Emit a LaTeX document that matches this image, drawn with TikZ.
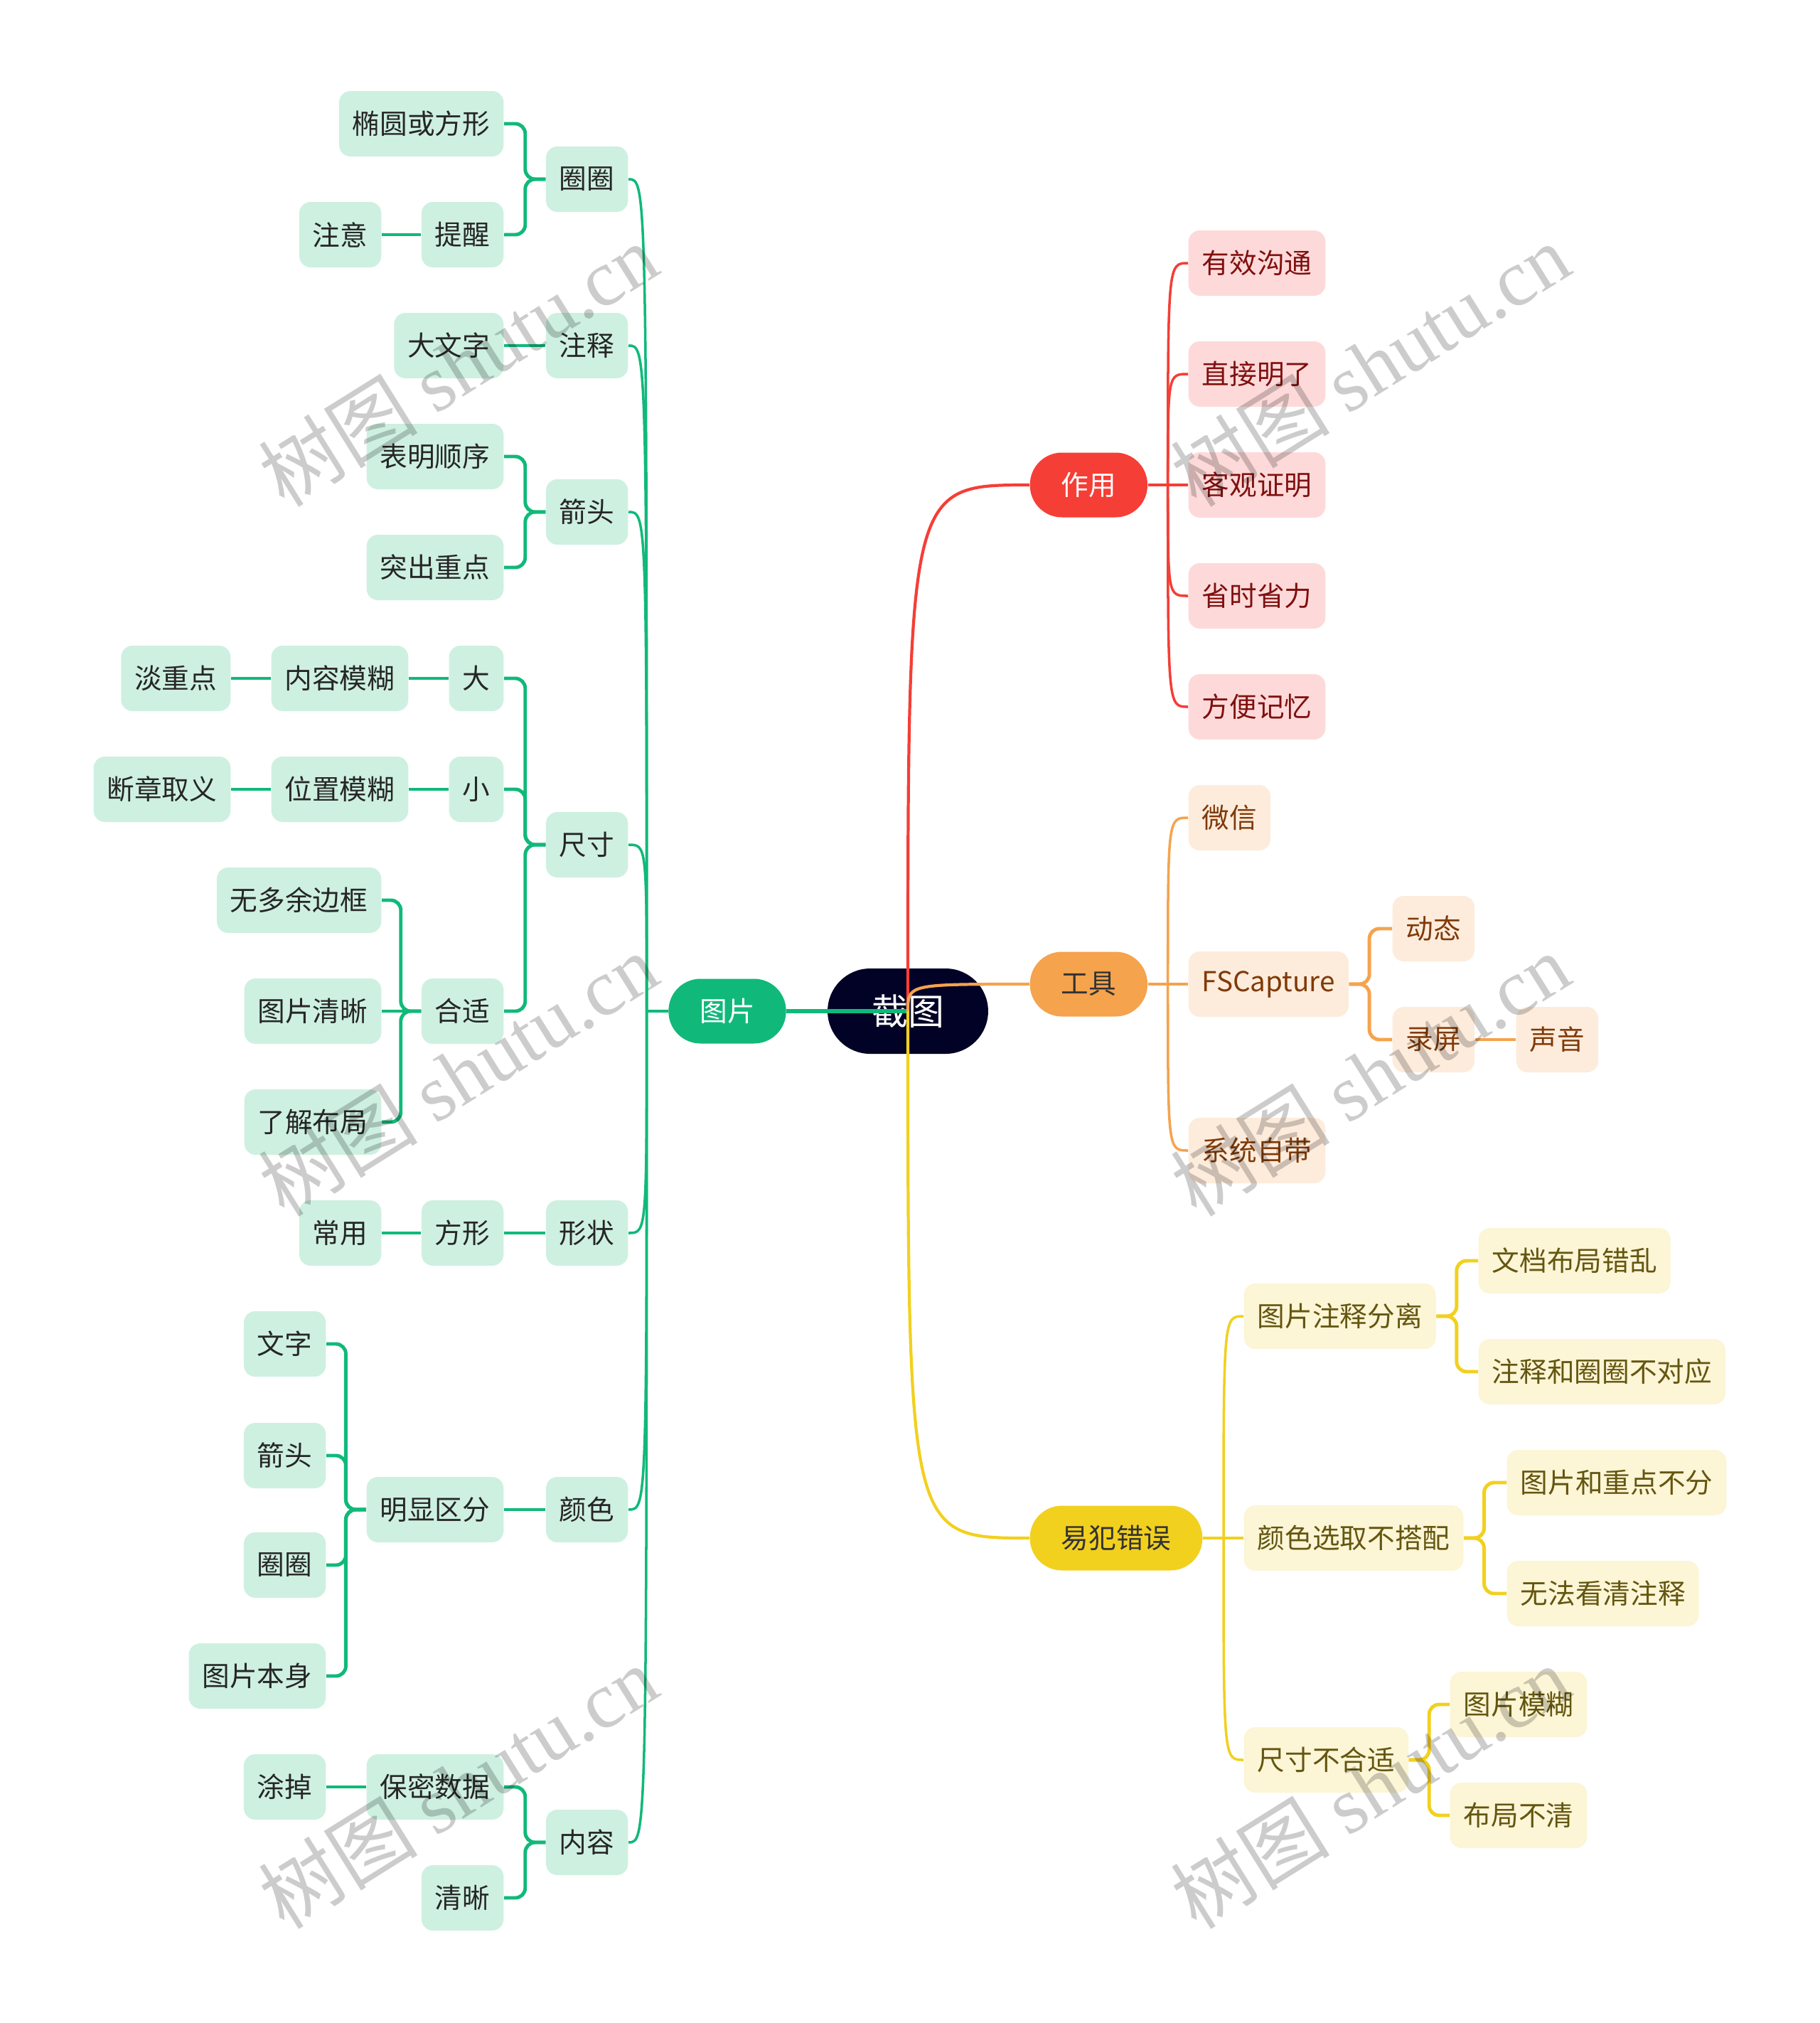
\documentclass[tikz,border=0pt]{standalone}
\usepackage{fontspec}
\setmainfont{Noto Sans CJK SC}
\newfontfamily\wmfont{Liberation Serif}
\definecolor{rootbg}{RGB}{2,2,38}
\definecolor{tpgreen}{RGB}{16,185,122}
\definecolor{tplight}{RGB}{206,240,225}
\definecolor{zyred}{RGB}{245,62,54}
\definecolor{zylight}{RGB}{253,218,217}
\definecolor{zytext}{RGB}{128,16,16}
\definecolor{gjorange}{RGB}{245,163,77}
\definecolor{gjlight}{RGB}{253,236,220}
\definecolor{gjtext}{RGB}{128,58,8}
\definecolor{cwyellow}{RGB}{242,208,30}
\definecolor{cwlight}{RGB}{252,245,214}
\definecolor{cwtext}{RGB}{100,86,16}

\begin{document}
\begin{tikzpicture}[font=\fontsize{11}{13}\selectfont,
  leaf/.style={rounded corners=0.16cm, minimum height=0.92cm, inner xsep=0.19cm, inner ysep=0pt},
  gleaf/.style={leaf, fill=tplight, text=black!85},
  rleaf/.style={leaf, fill=zylight, text=zytext},
  oleaf/.style={leaf, fill=gjlight, text=gjtext},
  yleaf/.style={leaf, fill=cwlight, text=cwtext},
  branch/.style={rounded corners=0.45cm, minimum height=0.91cm, inner xsep=0.44cm, inner ysep=0pt},
  trunk/.style={line width=1.2pt},
  twig/.style={line width=1pt},
  elbow/.style={line width=1.4pt, rounded corners=0.14cm},
  wmark/.style={rotate=32, text=black, text opacity=0.2, font=\fontsize{32}{32}\selectfont}]
  \useasboundingbox (0,0) rectangle (25.6,-28.45);
  \fill[white] (0,0) rectangle (25.6,-28.45);

  % center and first level
  \node[fill=rootbg, text=white, rounded corners=0.6cm, minimum height=1.2cm, inner xsep=0.62cm, inner ysep=0pt,
    font=\fontsize{14.5}{16}\selectfont] (root) at (12.77,-14.22) {截图};
  \node[branch, fill=tpgreen, text=white] (pic) at (10.23,-14.22) {图片};
  \node[branch, fill=zyred, text=white, anchor=west] (use) at (14.48,-6.82) {作用};
  \node[branch, fill=gjorange, text=black!80, anchor=west] (tool) at (14.48,-13.84) {工具};
  \node[branch, fill=cwyellow, text=black!80, anchor=west] (err) at (14.48,-21.63) {易犯错误};

  % 图片
  \node[gleaf, anchor=east] (qq) at (8.84,-2.52) {圈圈};
  \node[gleaf, anchor=east] (zs) at (8.84,-4.86) {注释};
  \node[gleaf, anchor=east] (jt) at (8.84,-7.20) {箭头};
  \node[gleaf, anchor=east] (cc) at (8.84,-11.88) {尺寸};
  \node[gleaf, anchor=east] (xz) at (8.84,-17.34) {形状};
  \node[gleaf, anchor=east] (ys) at (8.84,-21.23) {颜色};
  \node[gleaf, anchor=east] (nr) at (8.84,-25.91) {内容};

  \node[gleaf, anchor=east] (qq1) at (7.09,-1.74) {椭圆或方形};
  \node[gleaf, anchor=east] (qq2) at (7.09,-3.30) {提醒};
  \node[gleaf, anchor=east] (zs1) at (7.09,-4.86) {大文字};
  \node[gleaf, anchor=east] (jt1) at (7.09,-6.42) {表明顺序};
  \node[gleaf, anchor=east] (jt2) at (7.09,-7.98) {突出重点};
  \node[gleaf, anchor=east] (cc1) at (7.09,-9.54) {大};
  \node[gleaf, anchor=east] (cc2) at (7.09,-11.10) {小};
  \node[gleaf, anchor=east] (cc3) at (7.09,-14.22) {合适};
  \node[gleaf, anchor=east] (xz1) at (7.09,-17.34) {方形};
  \node[gleaf, anchor=east] (ys1) at (7.09,-21.23) {明显区分};
  \node[gleaf, anchor=east] (nr1) at (7.09,-25.13) {保密数据};
  \node[gleaf, anchor=east] (nr2) at (7.09,-26.69) {清晰};

  \node[gleaf, anchor=east] (qq21) at (5.37,-3.30) {注意};
  \node[gleaf, anchor=east] (cc11) at (5.75,-9.54) {内容模糊};
  \node[gleaf, anchor=east] (cc21) at (5.75,-11.10) {位置模糊};
  \node[gleaf, anchor=east] (cc31) at (5.37,-12.66) {无多余边框};
  \node[gleaf, anchor=east] (cc32) at (5.37,-14.22) {图片清晰};
  \node[gleaf, anchor=east] (cc33) at (5.37,-15.78) {了解布局};
  \node[gleaf, anchor=east] (xz11) at (5.37,-17.34) {常用};
  \node[gleaf, anchor=east] (ys11) at (4.59,-18.90) {文字};
  \node[gleaf, anchor=east] (ys12) at (4.59,-20.47) {箭头};
  \node[gleaf, anchor=east] (ys13) at (4.59,-22.01) {圈圈};
  \node[gleaf, anchor=east] (ys14) at (4.59,-23.57) {图片本身};
  \node[gleaf, anchor=east] (nr11) at (4.59,-25.13) {涂掉};
  \node[gleaf, anchor=east] (cc111) at (3.25,-9.54) {淡重点};
  \node[gleaf, anchor=east] (cc211) at (3.25,-11.10) {断章取义};

  % 作用
  \node[rleaf, anchor=west] (use1) at (16.71,-3.70) {有效沟通};
  \node[rleaf, anchor=west] (use2) at (16.71,-5.26) {直接明了};
  \node[rleaf, anchor=west] (use3) at (16.71,-6.82) {客观证明};
  \node[rleaf, anchor=west] (use4) at (16.71,-8.38) {省时省力};
  \node[rleaf, anchor=west] (use5) at (16.71,-9.94) {方便记忆};

  % 工具
  \node[oleaf, anchor=west] (tool1) at (16.71,-11.50) {微信};
  \node[oleaf, anchor=west] (tool2) at (16.71,-13.84) {FSCapture};
  \node[oleaf, anchor=west] (tool3) at (16.71,-16.18) {系统自带};
  \node[oleaf, anchor=west] (tool21) at (19.58,-13.06) {动态};
  \node[oleaf, anchor=west] (tool22) at (19.58,-14.62) {录屏};
  \node[oleaf, anchor=west] (tool221) at (21.32,-14.62) {声音};

  % 易犯错误
  \node[yleaf, anchor=west] (err1) at (17.49,-18.51) {图片注释分离};
  \node[yleaf, anchor=west] (err2) at (17.49,-21.63) {颜色选取不搭配};
  \node[yleaf, anchor=west] (err3) at (17.49,-24.75) {尺寸不合适};
  \node[yleaf, anchor=west] (err11) at (20.79,-17.73) {文档布局错乱};
  \node[yleaf, anchor=west] (err12) at (20.79,-19.29) {注释和圈圈不对应};
  \node[yleaf, anchor=west] (err21) at (21.19,-20.85) {图片和重点不分};
  \node[yleaf, anchor=west] (err22) at (21.19,-22.41) {无法看清注释};
  \node[yleaf, anchor=west] (err31) at (20.39,-23.97) {图片模糊};
  \node[yleaf, anchor=west] (err32) at (20.39,-25.53) {布局不清};

  % connectors
  \draw[trunk, tpgreen, line width=1.5pt] (pic.east) -- (root.center);
  \draw[trunk, zyred] (root.center) .. controls (root.center |- use.west) and (root.center |- use.west) .. (use.west);
  \draw[trunk, gjorange] (root.center) .. controls (root.center |- tool.west) and (root.center |- tool.west) .. (tool.west);
  \draw[trunk, cwyellow] (root.center) .. controls (root.center |- err.west) and (root.center |- err.west) .. (err.west);

  \path (pic.west) ++(-0.3,0) coordinate (picj);
  \path (use.east) ++(0.28,0) coordinate (usej);
  \path (tool.east) ++(0.28,0) coordinate (toolj);
  \path (err.east) ++(0.29,0) coordinate (errj);
  \draw[twig, tpgreen] (pic.west) -- (picj);
  \draw[twig, zyred] (use.east) -- (usej);
  \draw[twig, gjorange] (tool.east) -- (toolj);
  \draw[twig, cwyellow] (err.east) -- (errj);
  \foreach \c in {qq,zs,jt,cc,xz,ys,nr}
    \draw[twig, tpgreen] (picj) .. controls (picj |- \c.east) .. (\c.east);
  \foreach \i in {1,...,5}
    \draw[twig, zyred] (usej) .. controls (usej |- use\i.west) .. (use\i.west);
  \foreach \i in {1,2,3}
    \draw[twig, gjorange] (toolj) .. controls (toolj |- tool\i.west) .. (tool\i.west);
  \foreach \i in {1,2,3}
    \draw[twig, cwyellow] (errj) .. controls (errj |- err\i.west) .. (err\i.west);

  \foreach \a/\b in {qq/qq1, qq/qq2, jt/jt1, jt/jt2, cc/cc1, cc/cc2, cc/cc3, cc3/cc31, cc3/cc33,
      ys1/ys11, ys1/ys12, ys1/ys13, ys1/ys14, nr/nr1, nr/nr2}
    \draw[elbow, tpgreen] (\a.west) -- ++(-0.285,0) |- (\b.east);
  \foreach \a/\b in {qq2/qq21, zs/zs1, cc1/cc11, cc11/cc111, cc2/cc21, cc21/cc211, cc3/cc32,
      xz/xz1, xz1/xz11, ys/ys1, nr1/nr11}
    \draw[elbow, tpgreen] (\a.west) -- (\b.east);
  \foreach \a/\b in {tool2/tool21, tool2/tool22}
    \draw[elbow, gjorange] (\a.east) -- ++(0.285,0) |- (\b.west);
  \draw[elbow, gjorange] (tool22.east) -- (tool221.west);
  \foreach \a/\b in {err1/err11, err1/err12, err2/err21, err2/err22, err3/err31, err3/err32}
    \draw[elbow, cwyellow] (\a.east) -- ++(0.285,0) |- (\b.west);

  % watermarks
  \node[wmark] (wm1) at (6.44,-5.13) {树图 {\wmfont shutu.cn}};
  \node[wmark] (wm2) at (19.27,-5.13) {树图 {\wmfont shutu.cn}};
  \node[wmark] (wm3) at (6.44,-15.11) {树图 {\wmfont shutu.cn}};
  \node[wmark] (wm4) at (19.27,-15.11) {树图 {\wmfont shutu.cn}};
  \node[wmark] (wm5) at (6.44,-25.13) {树图 {\wmfont shutu.cn}};
  \node[wmark] (wm6) at (19.27,-25.13) {树图 {\wmfont shutu.cn}};
\end{tikzpicture}
\end{document}
